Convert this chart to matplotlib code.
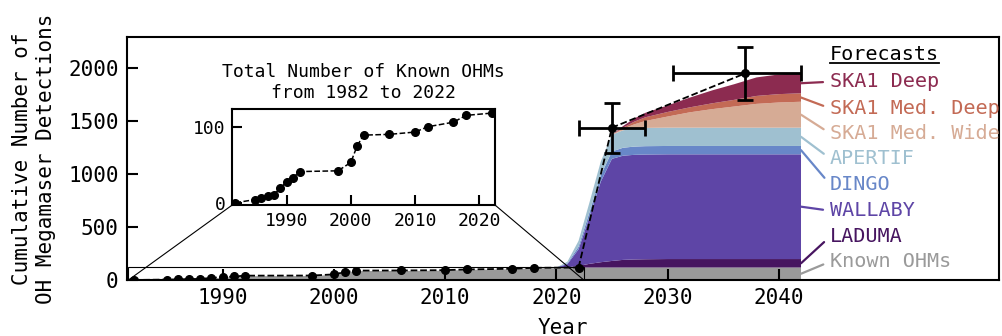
import numpy as np
import matplotlib
matplotlib.use('Agg')
import matplotlib.pyplot as plt
from mpl_toolkits.axes_grid1.inset_locator import mark_inset

# Known OHM detections (cumulative)
known_years = [1982, 1985, 1986, 1987, 1988, 1989, 1990, 1991, 1992, 1998,
               2000, 2001, 2002, 2006, 2010, 2012, 2016, 2018, 2022]
known_counts = [0, 4, 6, 9, 10, 20, 27, 33, 41, 42,
                53, 75, 89, 90, 93, 100, 106, 115, 118]

# Forecast points with error bars
fc_years = [2025, 2037]
fc_counts = [1440, 1954]
fc_xerr_lo = [3.0, 6.5]
fc_xerr_hi = [3.0, 5.0]
fc_yerr = [235, 252]

# Stacked forecast layers (per-survey contribution)
fc_grid = [2020, 2021, 2022, 2023, 2024, 2025, 2026, 2027, 2028,
           2030, 2032, 2034, 2036, 2038, 2040, 2042]
known_fc = [117, 117, 118, 118, 118, 118, 118, 118, 118,
            118, 118, 118, 118, 118, 118, 118]
laduma = [0, 3, 15, 35, 50, 62, 72, 76, 78, 80, 80, 80, 80, 80, 80, 80]
wallaby = [0, 30, 157, 447, 762, 965, 985, 989, 990,
           990, 990, 990, 990, 990, 990, 990]
dingo = [0, 8, 25, 45, 60, 70, 75, 78, 79, 79, 79, 79, 79, 79, 79, 79]
apertif = [0, 15, 55, 95, 130, 158, 165, 170, 173,
           173, 173, 173, 173, 173, 173, 173]
med_wide = [0, 0, 0, 0, 0, 0, 15, 40, 65, 105, 145, 175, 200, 225, 238, 245]
med_deep = [0, 0, 0, 0, 0, 0, 10, 25, 35, 43, 47, 55, 63, 75, 79, 80]
ska_deep = [0, 0, 0, 0, 0, 0, 15, 30, 42, 62, 92, 122, 148, 175, 186, 190]

layer_names = ['Known OHMs', 'LADUMA', 'WALLABY', 'DINGO', 'APERTIF',
               'SKA1 Med. Wide', 'SKA1 Med. Deep', 'SKA1 Deep']
layer_colors = ['#9a9a9a', '#471560', '#5e45a6', '#6887c8', '#9fc0d0',
                '#d6ab95', '#c36a55', '#8c2b50']
label_y = [173, 409, 655, 905, 1150, 1387, 1623, 1874]
title_y = 2127

plt.rcParams['font.family'] = ['DejaVu Sans Mono']

fig = plt.figure(figsize=(10.02, 3.36), dpi=100)
ax = fig.add_axes([0.1267, 0.1667, 0.8703, 0.7241])

# history fill + forecast stack
ax.fill_between(known_years, known_counts, color=layer_colors[0], lw=0, zorder=1)
layers = [known_fc, laduma, wallaby, dingo, apertif, med_wide, med_deep, ska_deep]
ax.stackplot(fc_grid, *layers, colors=layer_colors, lw=0, zorder=1)

# data line and forecast points
ax.plot(known_years, known_counts, 'k--o', ms=5.5, lw=1.3, zorder=4)
ax.plot([known_years[-1]] + fc_years, [known_counts[-1]] + fc_counts,
        'k--', lw=1.3, zorder=4)
ax.errorbar(fc_years, fc_counts, xerr=[fc_xerr_lo, fc_xerr_hi], yerr=fc_yerr,
            fmt='o', color='k', ms=5.5, lw=2, capsize=6, capthick=2, zorder=5)

# labels for each layer, connected to the right edge of the stack
tops = np.cumsum([l[-1] for l in layers])
bottoms = tops - np.array([l[-1] for l in layers])
for name, c, yt, lo, hi in zip(layer_names, layer_colors, label_y, bottoms, tops):
    ax.annotate(name, xy=(fc_grid[-1], (lo + hi) / 2), xytext=(2044.6, yt),
                ha='left', va='center', color=c, fontsize=14.5,
                arrowprops=dict(arrowstyle='-', color=c, lw=1.6,
                                relpos=(0, 0.5), shrinkA=3, shrinkB=0))
head = ax.text(2044.6, title_y, 'Forecasts', ha='left',
               va='center', fontsize=14.5, color='k')

ax.set_xlim(1981.4, 2059.8)
ax.set_ylim(0, 2300)
ax.set_xticks([1990, 2000, 2010, 2020, 2030, 2040])
ax.set_yticks([0, 500, 1000, 1500, 2000])
ax.tick_params(direction='in', length=8, width=1.5, labelsize=15, pad=6)
ax.set_xlabel('Year', fontsize=15, labelpad=7)
ax.set_ylabel('Cumulative Number of\nOH Megamaser Detections', fontsize=15,
              labelpad=9)
for s in ax.spines.values():
    s.set_linewidth(1.5)

# inset with the known OHMs only
axins = fig.add_axes([0.2318, 0.3899, 0.2622, 0.2848])
axins.plot(known_years, known_counts, 'k--o', ms=5.5, lw=1.1)
axins.set_xlim(1981.5, 2022.5)
axins.set_ylim(-3, 123)
axins.set_xticks([1990, 2000, 2010, 2020])
axins.set_yticks([0, 100])
axins.tick_params(direction='in', length=7, width=1.5, labelsize=13, pad=5)
axins.set_title('Total Number of Known OHMs\nfrom 1982 to 2022', fontsize=13,
                pad=8)
for s in axins.spines.values():
    s.set_linewidth(1.5)
mark_inset(ax, axins, loc1=3, loc2=4, fc='none', ec='k', lw=0.8, zorder=6)

# underline the "Forecasts" heading
fig.canvas.draw()
bb = head.get_window_extent().transformed(ax.transAxes.inverted())
ax.plot([bb.x0, bb.x1], [bb.y0 + 0.005, bb.y0 + 0.005], color='k', lw=1.3,
        transform=ax.transAxes, clip_on=False)

fig.savefig('out.png', dpi=100)
plt.close(fig)
